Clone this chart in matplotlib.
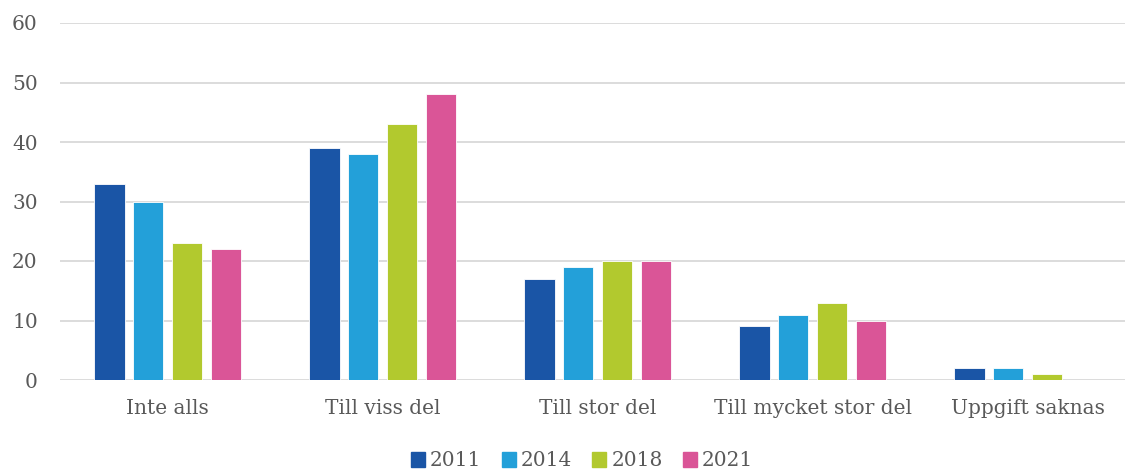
import numpy as np
import matplotlib.pyplot as plt
from matplotlib.patches import Patch

categories = ['Inte alls', 'Till viss del', 'Till stor del', 'Till mycket stor del', 'Uppgift saknas']
years = ['2011', '2014', '2018', '2021']
v2011 = [33, 39, 17, 9, 2]
v2014 = [30, 38, 19, 11, 2]
v2018 = [23, 43, 20, 13, 1]
v2021 = [22, 48, 20, 10, 0]
series = [v2011, v2014, v2018, v2021]
colors = ['#1a55a6', '#23a0d9', '#b2c92e', '#da5597']

plt.rcParams['font.family'] = ['DejaVu Serif']
text_color = '#595959'

fig = plt.figure(figsize=(11.25, 4.7), dpi=100)
ax = fig.add_axes([60 / 1125, 1 - 380 / 470, 1075 / 1125, 357 / 470])

x = np.arange(len(categories))
width = 0.143
step = 0.181
for i, (vals, c) in enumerate(zip(series, colors)):
    ax.bar(x + (i - 1.5) * step, vals, width, color=c, edgecolor='white',
           linewidth=0.6, zorder=3, label=years[i])

ax.set_xlim(-0.5, len(categories) - 0.5)
ax.set_ylim(0, 60)
ax.set_yticks(range(0, 61, 10))
ax.grid(axis='y', color='#d9d9d9', linewidth=1.3, zorder=0)
ax.set_xticks(x)
ax.set_xticklabels(categories)
ax.tick_params(axis='both', length=0, labelsize=14.5, labelcolor=text_color)
ax.tick_params(axis='x', pad=14)
ax.tick_params(axis='y', pad=16)
for s in ax.spines.values():
    s.set_visible(False)

handles = [Patch(color=c) for c in colors]
fig.legend(handles, years, loc='center', bbox_to_anchor=(582 / 1125, 1 - 461 / 470),
           ncol=4, frameon=False, fontsize=14.5, labelcolor=text_color,
           handlelength=0.7, handleheight=0.7, handletextpad=0.25, columnspacing=1.0)

fig.savefig('out.png', dpi=100)
